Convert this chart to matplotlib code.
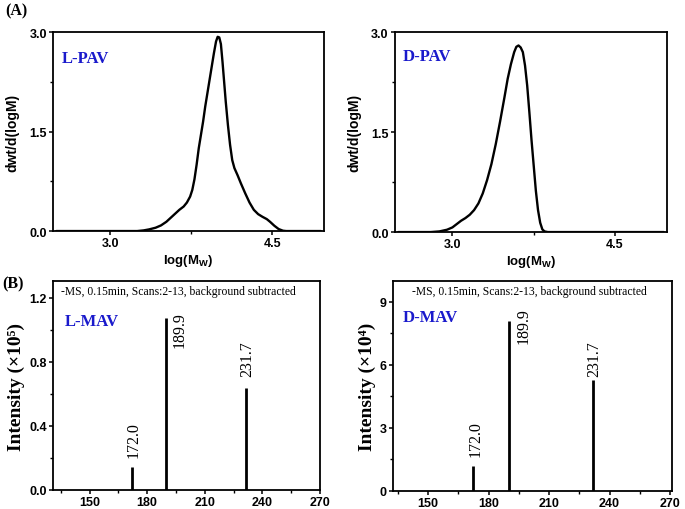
import matplotlib
matplotlib.use("Agg")
import matplotlib.pyplot as plt
from matplotlib.ticker import MultipleLocator

plt.rcParams['mathtext.fontset'] = 'custom'
plt.rcParams['mathtext.rm'] = 'Liberation Sans:bold'
plt.rcParams['mathtext.it'] = 'Liberation Sans:bold'
plt.rcParams['mathtext.bf'] = 'Liberation Sans:bold'

# ---- GPC data (log Mw vs dwt/d(logM)) ----
lpav_x = [2.50, 3.25, 3.31, 3.36, 3.42, 3.47, 3.52, 3.56, 3.60, 3.64, 3.68, 3.71, 3.74,
          3.76, 3.78, 3.80, 3.82, 3.84, 3.86, 3.88, 3.90, 3.92, 3.94, 3.96, 3.98, 3.995,
          4.01, 4.025, 4.04, 4.055, 4.07, 4.09, 4.11, 4.13, 4.15, 4.18, 4.21, 4.25, 4.29,
          4.33, 4.37, 4.41, 4.45, 4.48, 4.52, 4.56, 4.60, 4.63, 4.95]
lpav_y = [0.0, 0.0, 0.01, 0.025, 0.05, 0.085, 0.14, 0.20, 0.26, 0.32, 0.37, 0.43, 0.52,
          0.62, 0.78, 1.00, 1.25, 1.45, 1.65, 1.88, 2.08, 2.28, 2.48, 2.68, 2.86, 2.93,
          2.92, 2.82, 2.55, 2.25, 1.95, 1.60, 1.30, 1.07, 0.95, 0.84, 0.72, 0.57, 0.43,
          0.32, 0.255, 0.215, 0.18, 0.14, 0.08, 0.03, 0.005, 0.0, 0.0]

dpav_x = [2.50, 2.80, 2.88, 2.95, 3.00, 3.04, 3.08, 3.12, 3.16, 3.20, 3.24, 3.28, 3.32,
          3.36, 3.40, 3.44, 3.48, 3.51, 3.54, 3.57, 3.59, 3.61, 3.63, 3.65, 3.67, 3.69,
          3.71, 3.73, 3.75, 3.77, 3.79, 3.81, 3.83, 3.85, 3.88, 4.95]
dpav_y = [0.0, 0.0, 0.01, 0.035, 0.07, 0.12, 0.17, 0.21, 0.26, 0.33, 0.43, 0.58, 0.78,
          1.02, 1.32, 1.66, 2.02, 2.30, 2.52, 2.70, 2.78, 2.80, 2.77, 2.70, 2.50, 2.20,
          1.80, 1.38, 1.00, 0.62, 0.33, 0.14, 0.04, 0.01, 0.0, 0.0]

gpc_xticks = [3.0, 4.5]
gpc_yticks = [0.0, 1.5, 3.0]

# ---- MS data ----
ms_mz = [172.0, 189.9, 231.7]
ms_labels = ['172.0', '189.9', '231.7']
lmav_int = [0.144, 1.075, 0.64]     # x 10^5
dmav_int = [1.2, 8.1, 5.3]          # x 10^4
lmav_yticks = [0.0, 0.4, 0.8, 1.2]
dmav_yticks = [0, 3, 6, 9]
ms_xticks = [150, 180, 210, 240, 270]

ms_note = '-MS, 0.15min, Scans:2-13, background subtracted'

fig = plt.figure(figsize=(6.85, 5.1), dpi=100)

SANS = 'Liberation Sans'
SERIF = ['Liberation Serif', 'DejaVu Serif']
BLUE = '#1a1acc'


def style_axes(ax):
    for s in ax.spines.values():
        s.set_linewidth(1.3)
    ax.tick_params(axis='both', which='major', direction='out', length=3, width=1.1,
                   top=False, right=False, pad=1.5)
    ax.tick_params(axis='both', which='minor', direction='out', length=2, width=1.0,
                   top=False, right=False)
    for lab in ax.get_xticklabels() + ax.get_yticklabels():
        lab.set_fontfamily(SANS)
        lab.set_fontweight('bold')
        lab.set_fontsize(9)


def gpc_panel(rect, x, y, name, namepos):
    ax = fig.add_axes(rect)
    ax.plot(x, y, color='black', lw=1.7, solid_joinstyle='round', solid_capstyle='round')
    ax.set_xlim(2.47, 4.98)
    ax.set_ylim(0, 3.0)
    ax.set_xticks(gpc_xticks)
    ax.set_yticks(gpc_yticks)
    ax.xaxis.set_minor_locator(MultipleLocator(0.75))
    ax.yaxis.set_minor_locator(MultipleLocator(0.75))
    ax.set_xticklabels([f'{v:.1f}' for v in gpc_xticks])
    ax.set_yticklabels([f'{v:.1f}' for v in gpc_yticks])
    style_axes(ax)
    ax.set_xlabel(r'log(M$_\mathrm{W}$)', fontfamily=SANS, fontweight='bold', fontsize=9.5, labelpad=2)
    ax.set_ylabel('dwt/d(logM)', fontfamily=SANS, fontweight='bold', fontsize=10, labelpad=7)
    ax.text(namepos[0], namepos[1], name, transform=ax.transAxes, color=BLUE,
            fontfamily=SERIF, fontweight='bold', fontsize=12, ha='left', va='center')
    return ax


def ms_panel(rect, vals, yticks, ylim, xlim, ylabel, fmt, name, namepos, notex, offsets):
    ax = fig.add_axes(rect)
    ax.vlines(ms_mz, 0, vals, color='black', lw=2.0)
    ax.set_xlim(*xlim)
    ax.set_ylim(*ylim)
    ax.set_xticks(ms_xticks)
    ax.set_yticks(yticks)
    ax.xaxis.set_minor_locator(MultipleLocator(15))
    ax.yaxis.set_minor_locator(MultipleLocator((yticks[1] - yticks[0]) / 2))
    ax.set_yticklabels([fmt.format(v) for v in yticks])
    style_axes(ax)
    ax.set_ylabel(ylabel, fontfamily=SERIF, fontweight='bold', fontsize=14, labelpad=3)
    ax.text(namepos[0], namepos[1], name, transform=ax.transAxes, color=BLUE,
            fontfamily=SERIF, fontweight='bold', fontsize=12, ha='left', va='center')
    ax.text(notex, 0.95, ms_note, transform=ax.transAxes, fontfamily=SERIF,
            fontsize=8.4, ha='center', va='center')
    for mz, v, lab, (dx, dy, va) in zip(ms_mz, vals, ms_labels, offsets):
        ax.annotate(lab, xy=(mz, v), xytext=(dx, dy), textcoords='offset points',
                    rotation=90, ha='center', va=va, fontfamily=SERIF, fontsize=11.5)
    return ax


gpc_panel([0.0774, 0.545, 0.3956, 0.390], lpav_x, lpav_y, 'L-PAV', (0.033, 0.87))
gpc_panel([0.5766, 0.543, 0.3971, 0.392], dpav_x, dpav_y, 'D-PAV', (0.03, 0.88))

ms_panel([0.0774, 0.0373, 0.3898, 0.4097], lmav_int, lmav_yticks, (0, 1.306), (131, 270),
         'Intensity (×10⁵)', '{:.1f}', 'L-MAV', (0.045, 0.81), 0.47,
         [(1.5, 7, 'bottom'), (9.5, 5, 'top'), (0.8, 8, 'bottom')])
ms_panel([0.5737, 0.0353, 0.4073, 0.4118], dmav_int, dmav_yticks, (0, 10.0), (132.5, 271),
         'Intensity (×10⁴)', '{:d}', 'D-MAV', (0.036, 0.83), 0.49,
         [(2, 7, 'bottom'), (11, 10, 'top'), (0.8, 2.5, 'bottom')])

fig.text(0.007, 0.977, '(A)', fontfamily=SERIF, fontweight='bold', fontsize=11.5, ha='left', va='center')
fig.text(0.003, 0.443, '(B)', fontfamily=SERIF, fontweight='bold', fontsize=11.5, ha='left', va='center')

fig.savefig('out.png', dpi=100)
